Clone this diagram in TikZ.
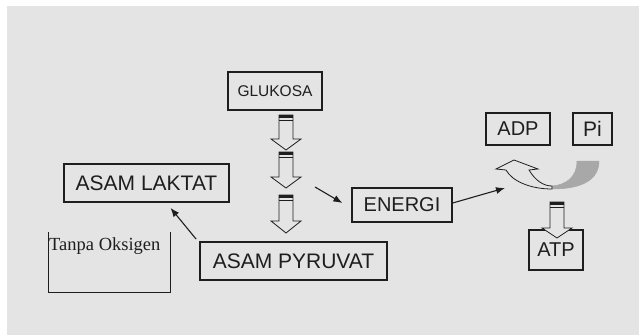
\documentclass[tikz,border=0pt]{standalone}
\usepackage{fontspec}
\setmainfont{Liberation Sans}
\newfontfamily\timesface{Liberation Serif}
\usepackage{xcolor}
\definecolor{slideBg}{HTML}{E4E4E4}
\definecolor{inkDark}{HTML}{1E1E1E}
\definecolor{bandGray}{HTML}{A8A8A8}
\usetikzlibrary{arrows.meta}

\begin{document}
\begin{tikzpicture}[x=1pt, y=-1pt,
  stage/.style={draw=inkDark, line width=1.8pt, inner sep=0pt, text=inkDark, font=\fontsize{21}{23}\selectfont},
  molbox/.style={draw=inkDark, line width=1.3pt, inner sep=0pt, text=inkDark, font=\fontsize{20}{22}\selectfont},
  link/.style={draw=inkDark, line width=1.1pt, -{Latex[length=9pt,width=7pt]}}]
  \useasboundingbox (0,0) rectangle (639,335);
  \fill[white] (0,0) rectangle (639,335);
  \fill[slideBg] (7,6) rectangle (639,335);
  \node[molbox, line width=1.5pt, minimum width=94pt, minimum height=38pt, font=\fontsize{15.5}{17}\selectfont] (glukosa) at (275,91) {GLUKOSA};
  \node[stage, minimum width=165pt, minimum height=38pt] (laktat) at (146.5,183) {ASAM LAKTAT};
  \node[stage, minimum width=187pt, minimum height=38pt] (pyruvat) at (293.5,261) {ASAM PYRUVAT};
  \node[molbox, minimum width=100pt, minimum height=34pt] (energi) at (402,205) {ENERGI};
  \node[molbox, minimum width=64pt, minimum height=32pt] (adp) at (518,129) {ADP};
  \node[molbox, minimum width=39pt, minimum height=32pt, font=\fontsize{21}{23}\selectfont] (pi) at (592.5,129) {Pi};
  \node[molbox, minimum width=54pt, minimum height=40pt] (atp) at (556,250) {ATP};
  \draw[inkDark, line width=0.9pt] (48,232) -- (48,292) -- (170,292) -- (170,232);
  \node[anchor=west, inner sep=0pt, text=inkDark, font=\timesface\fontsize{18.5}{21}\selectfont] (tanpa) at (49,246) {Tanpa Oksigen};
  \foreach \cx/\ty/\hy/\by in {286/115/139/150, 286/152/177/188, 286/195/221/233, 557/202/228/238}
  {
    \filldraw[fill=slideBg, draw=inkDark, line width=0.8pt] (\cx-7,\ty) -- (\cx-7,\hy) -- (\cx-15,\hy) -- (\cx,\by) -- (\cx+15,\hy) -- (\cx+7,\hy) -- (\cx+7,\ty) -- cycle;
    \fill[inkDark] (\cx-7,\ty) rectangle (\cx+7,\ty+3);
    \draw[inkDark, line width=0.8pt] (\cx-7,\ty+5) -- (\cx+7,\ty+5);
  }
  \filldraw[fill=bandGray, draw=bandGray, line width=0.5pt] (577,161) -- (599,161) .. controls (599,178) and (585,189) .. (552,189) -- (552,186) .. controls (566,185) and (577,177) .. (577,161) -- cycle;
  \filldraw[fill=slideBg, draw=inkDark, line width=0.8pt] (496,169) -- (514,160) -- (538,169) -- (529,170) .. controls (535,180) and (543,186) .. (552,186) -- (552,189) .. controls (530,189) and (512,181) .. (506,170) -- cycle;
  \coordinate (split) at (315,187);
  \coordinate (turn) at (505,188);
  \draw[link] (split) -- ([xshift=-9pt,yshift=2pt]energi.west);
  \draw[link] ([yshift=2pt]energi.east) -- (turn);
  \draw[link] ([xshift=-3pt,yshift=2pt]pyruvat.north west) -- ([xshift=24pt,yshift=-5pt]laktat.south);
\end{tikzpicture}
\end{document}
